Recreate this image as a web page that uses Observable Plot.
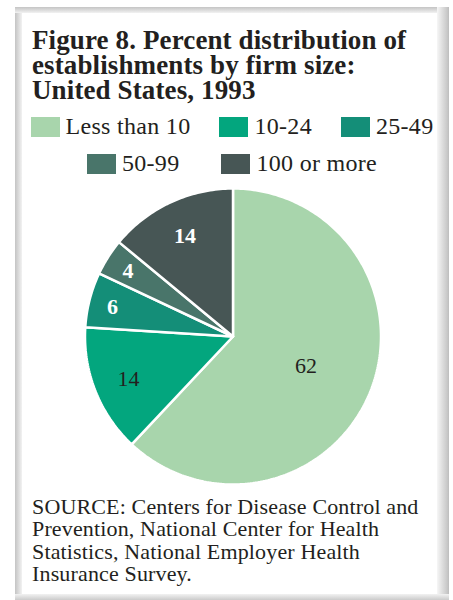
<!DOCTYPE html>
<html>
<head>
<meta charset="utf-8">
<script src="https://cdn.jsdelivr.net/npm/d3@7"></script>
<script src="https://cdn.jsdelivr.net/npm/@observablehq/plot@0.6"></script>
<style>
  html, body { margin: 0; padding: 0; background: #fff; width: 453px; height: 600px; overflow: hidden; }
  body { position: relative; font-family: "Liberation Serif", "Times New Roman", serif; color: #231f20; }
  .band { position: absolute; }
  #band-left { left: 15px; top: 7px; width: 7px; height: 593px; background: linear-gradient(to right, #c4c4c4, #d6d6d6 40%, #f2f2f2); }
  #band-top { left: 15px; top: 7px; width: 434px; height: 6px; background: linear-gradient(to bottom, #c4c4c4, #d6d6d6 40%, #f2f2f2); }
  #band-right { left: 437px; top: 7px; width: 12px; height: 593px; background: linear-gradient(to right, #f6f6f6, #e0e0e0 40%, #c8c8c8 85%, #bdbdbd); }
  #band-bottom { left: 15px; top: 594px; width: 434px; height: 6px; background: linear-gradient(to bottom, #f2f2f2, #dedede 50%, #cbcbcb); }
  #title {
    position: absolute; left: 32px; top: 28px; margin: 0;
    font-size: 27px; line-height: 25px; font-weight: bold; letter-spacing: 0.12px; color: #231f20;
  }
  #legend { position: absolute; left: 15px; top: 108px; width: 434px; }
  #legend .lg-swatches { margin: 0 !important; font-family: "Liberation Serif", serif !important; font-size: 24px !important; letter-spacing: 0.3px; color: #231f20 !important; }
  #legend .lg-swatches-wrap { display: flex !important; flex-wrap: wrap !important; justify-content: center !important; align-items: center !important; column-gap: 29px; row-gap: 0; }
  #legend .lg-swatch { display: inline-flex !important; align-items: center !important; height: 37px; margin: 0 !important; }
  #legend .lg-swatch:nth-of-type(4) { margin-right: 13px !important; }
  #legend .lg-swatch > svg { margin-right: 6px !important; }
  #chart { position: absolute; left: 0; top: 186px; }
  #source {
    position: absolute; left: 32px; top: 496px; margin: 0;
    font-size: 22px; line-height: 22.3px; letter-spacing: 0.15px; color: #231f20;
  }
</style>
</head>
<body>
<div class="band" id="band-left"></div>
<div class="band" id="band-top"></div>
<div class="band" id="band-right"></div>
<div class="band" id="band-bottom"></div>
<div id="title">Figure 8. Percent distribution of<br>establishments by firm size:<br>United States, 1993</div>
<div id="legend"></div>
<div id="chart"></div>
<div id="source">SOURCE: Centers for Disease Control and<br>Prevention, National Center for Health<br>Statistics, National Employer Health<br>Insurance Survey.</div>
<script>
// Firm size classes and their share of establishments (percent)
const categories = ["Less than 10", "10-24", "25-49", "50-99", "100 or more"];
const percents = [62, 14, 6, 4, 14];
const colors = ["#a8d5ac", "#03a67e", "#148e78", "#49756a", "#475655"];

const R = 148;              // pie radius in chart units (1 unit = 1px)
const total = d3.sum(percents);

// Slices run clockwise from 12 o'clock
let acc = 0;
const slices = categories.map((c, i) => {
  const a0 = (acc / total) * 2 * Math.PI;
  acc += percents[i];
  const a1 = (acc / total) * 2 * Math.PI;
  return {category: c, value: percents[i], a0, a1, color: colors[i]};
});

// Outline of each slice: centre, arc, back to centre
const outline = slices.flatMap(s => {
  const n = Math.max(2, Math.ceil((s.a1 - s.a0) / (Math.PI / 180)));
  const pts = [{category: s.category, x: 0, y: 0}];
  for (let k = 0; k <= n; ++k) {
    const a = s.a0 + (s.a1 - s.a0) * k / n;
    pts.push({category: s.category, x: R * Math.sin(a), y: R * Math.cos(a)});
  }
  pts.push({category: s.category, x: 0, y: 0});
  return pts;
});

// Value labels, pushed outward in narrow slices
const labels = slices.map(s => {
  const m = (s.a0 + s.a1) / 2;
  const f = s.value > 50 ? 0.53 : s.value < 10 ? 0.84 : 0.76;
  const dark = d3.lab(s.color).l > 57;
  return {text: String(s.value), x: f * R * Math.sin(m), y: f * R * Math.cos(m), dark};
});

const colorScale = {type: "ordinal", domain: categories, range: colors};

const chart = Plot.plot({
  width: 453,
  height: 300,
  margin: 0,
  x: {domain: [-232.5, 220.5], axis: null},
  y: {domain: [-150, 150], axis: null},
  color: colorScale,
  style: {background: "transparent", overflow: "visible"},
  marks: [
    Plot.line(outline, {x: "x", y: "y", z: "category", fill: "category", stroke: "white", strokeWidth: 2.5, strokeLinejoin: "miter", curve: "linear"}),
    Plot.text(labels.filter(d => d.dark), {x: "x", y: "y", text: "text", fill: "#231f20", fontSize: 22, fontFamily: "Liberation Serif", dy: 1}),
    Plot.text(labels.filter(d => !d.dark), {x: "x", y: "y", text: "text", fill: "white", fontSize: 22, fontWeight: "bold", fontFamily: "Liberation Serif", dy: 1})
  ]
});
document.getElementById("chart").append(chart);

document.getElementById("legend").append(
  Plot.legend({color: colorScale, swatchWidth: 29, swatchHeight: 20, className: "lg"})
);
</script>
</body>
</html>
